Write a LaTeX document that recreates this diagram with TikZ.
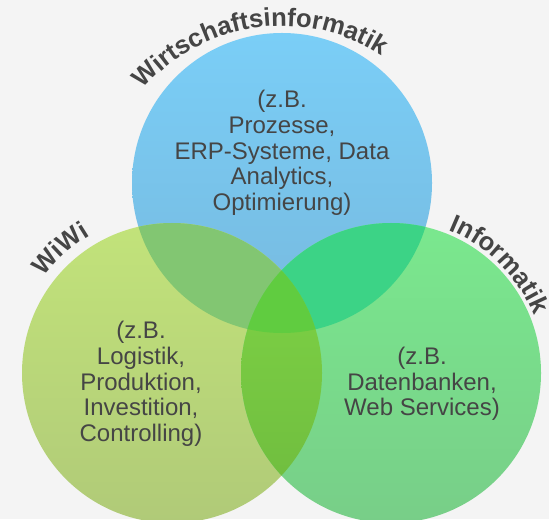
\documentclass[tikz,border=0pt]{standalone}
\usepackage{fontspec}
\setmainfont{Liberation Sans}
\usetikzlibrary{decorations.text}
\definecolor{textgray}{HTML}{454545}
\definecolor{bggray}{HTML}{F4F4F4}
\begin{document}
\begin{tikzpicture}[x=0.5pt,y=0.5pt,
		desc/.style={align=center,inner sep=0pt,text=textgray,font=\fontsize{12}{12.85}\selectfont},
		arclabel/.style={decorate,decoration={text along path,text align=center,text color=textgray,text={|\fontsize{12.8}{14}\selectfont\bfseries|#1}}}]
	\useasboundingbox (0,0) rectangle (549,519);
	\fill [bggray] (0,0) rectangle (549,519);
	\coordinate (winf) at (282,336);
	\coordinate (winfarc) at (282,309);
	\coordinate (wiwi) at (172,146);
	\coordinate (inf) at (391,146);
	\shade [top color={rgb,255:red,122;green,206;blue,247}, bottom color={rgb,255:red,119;green,185;blue,222}] (winf) circle (150);
	\shade [top color={rgb,255:red,194;green,227;blue,122}, bottom color={rgb,255:red,176;green,202;blue,120}] (wiwi) circle (150);
	\shade [top color={rgb,255:red,122;green,232;blue,142}, bottom color={rgb,255:red,120;green,206;blue,136}] (inf) circle (150);
	\begin{scope}
		\clip (winf) circle (150);
		\fill [fill={rgb,255:red,130;green,198;blue,114}] (wiwi) circle (150);
		\fill [fill={rgb,255:red,60;green,211;blue,134}] (inf) circle (150);
	\end{scope}
	\begin{scope}
		\clip (wiwi) circle (150);
		\shade [top color={rgb,255:red,128;green,214;blue,70}, bottom color={rgb,255:red,110;green,186;blue,62}] (inf) circle (150);
		\clip (winf) circle (150);
		\fill [fill={rgb,255:red,96;green,204;blue,64}] (inf) circle (150);
	\end{scope}
	\node [desc] (winftext) at (282,366) {(z.B.\\Prozesse,\\ERP-Systeme, Data\\Analytics,\\Optimierung)};
	\node [desc] (wiwitext) at (141,135) {(z.B.\\Logistik,\\Produktion,\\Investition,\\Controlling)};
	\node [desc] (inftext) at (422,135) {(z.B.\\Datenbanken,\\Web Services)};
	\path [arclabel=Wirtschaftsinformatik] (winfarc) ++(150:184) arc [start angle=150, end angle=46, radius=184];
	\path [arclabel=WiWi] (wiwi) ++(172:160) arc [start angle=172, end angle=92, radius=160];
	\path [arclabel=Informatik] (inf) ++(90:154) arc [start angle=90, end angle=0, radius=154];
\end{tikzpicture}
\end{document}
